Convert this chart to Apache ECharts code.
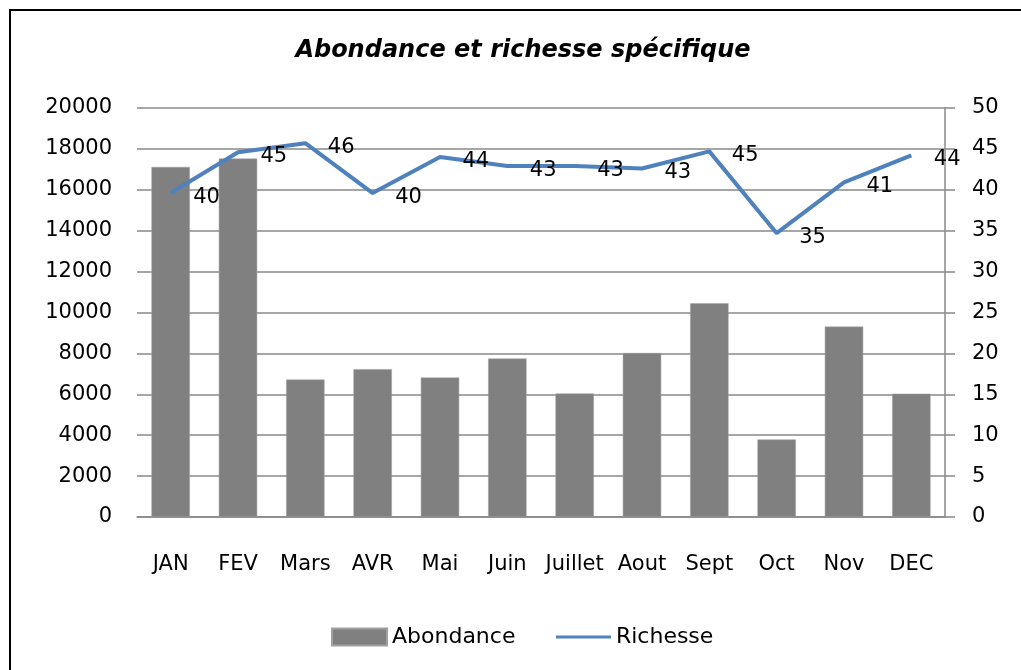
<!DOCTYPE html>
<html>
<head>
<meta charset="utf-8">
<script src="https://cdn.jsdelivr.net/npm/echarts@6/dist/echarts.min.js"></script>
<style>
  html, body { margin: 0; padding: 0; background: #fff; }
  #chart { width: 1021px; height: 670px; }
</style>
</head>
<body>
<div id="chart"></div>
<script>
const MONTHS = ["JAN", "FEV", "Mars", "AVR", "Mai", "Juin", "Juillet", "Aout", "Sept", "Oct", "Nov", "DEC"];
const ABONDANCE = [17120, 17530, 6720, 7230, 6820, 7750, 6040, 8020, 10450, 3790, 9310, 6030];
const RICHESSE = [39.6, 44.6, 45.7, 39.6, 44.0, 42.9, 42.9, 42.6, 44.7, 34.7, 40.9, 44.2];

const FONT = "DejaVu Sans";
const GRID_COLOR = "#888888";
const LINE_COLOR = "#4f81bd";

const chart = echarts.init(document.getElementById("chart"), null, { renderer: "canvas" });

chart.setOption({
  animation: false,
  backgroundColor: "#fff",
  textStyle: { fontFamily: FONT, color: "#000" },
  title: {
    text: "Abondance et richesse spécifique",
    left: 518,
    top: 34,
    textAlign: "center",
    textStyle: { fontFamily: FONT, fontSize: 24, fontStyle: "italic", fontWeight: "bold", color: "#000" },
  },
  graphic: [
    {
      type: "rect",
      shape: { x: 10, y: 10, width: 1030, height: 680 },
      style: { fill: "none", stroke: "#000", lineWidth: 2 },
      silent: true,
    },
  ],
  legend: {
    left: 326,
    top: 621,
    itemGap: 39,
    itemWidth: 55,
    itemHeight: 17,
    textStyle: { fontFamily: FONT, fontSize: 22, color: "#000" },
    data: [
      { name: "Abondance", icon: "rect" },
      { name: "Richesse", lineStyle: { width: 3 } },
    ],
  },
  grid: { left: 137, right: 76, top: 108, bottom: 153, containLabel: false },
  xAxis: {
    type: "category",
    data: MONTHS,
    axisLine: { show: true, lineStyle: { color: GRID_COLOR, width: 1.5 } },
    axisTick: { show: false },
    axisLabel: { color: "#000", fontSize: 21, margin: 37, interval: 0, fontFamily: FONT },
  },
  yAxis: [
    {
      type: "value",
      min: 0,
      max: 20000,
      interval: 2000,
      axisLine: { show: false },
      axisTick: { show: false },
      splitLine: { lineStyle: { color: GRID_COLOR, width: 1.5 } },
      axisLabel: { color: "#000", fontSize: 21, margin: 25, fontFamily: FONT, formatter: (v) => String(v) },
    },
    {
      type: "value",
      min: 0,
      max: 50,
      interval: 5,
      position: "right",
      axisLine: { show: true, lineStyle: { color: GRID_COLOR, width: 1.5 } },
      axisTick: { show: true, length: 10, lineStyle: { color: GRID_COLOR, width: 1.5 } },
      splitLine: { show: false },
      axisLabel: { color: "#000", fontSize: 21, margin: 27, fontFamily: FONT },
    },
  ],
  series: [
    {
      name: "Abondance",
      type: "bar",
      data: ABONDANCE,
      yAxisIndex: 0,
      barWidth: "57%",
      itemStyle: { color: "#808080", borderColor: "#a0a0a0", borderWidth: 0.5 },
    },
    {
      name: "Richesse",
      type: "line",
      data: RICHESSE,
      yAxisIndex: 1,
      symbol: "circle",
      symbolSize: 1,
      showSymbol: true,
      lineStyle: { color: LINE_COLOR, width: 4 },
      itemStyle: { color: "transparent" },
      label: {
        show: true,
        position: "right",
        distance: 22,
        offset: [0, 4],
        color: "#000",
        fontSize: 21,
        fontFamily: FONT,
        formatter: (p) => Math.round(p.value),
      },
    },
  ],
});
</script>
</body>
</html>
